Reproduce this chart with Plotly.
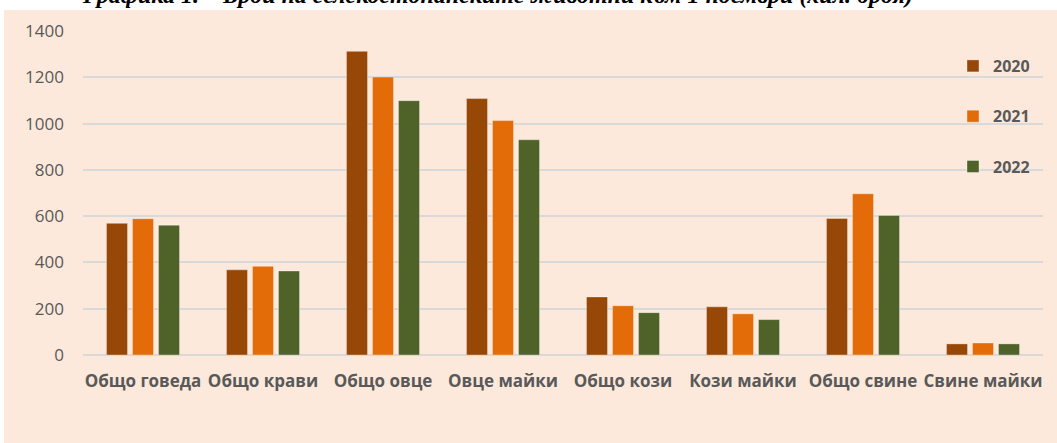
import plotly.graph_objects as go

categories = ["Общо говеда", "Общо крави", "Общо овце", "Овце майки",
              "Общо кози", "Кози майки", "Общо свине", "Свине майки"]
years = ["2020", "2021", "2022"]
values_2020 = [569, 368, 1312, 1108, 251, 208, 590, 48]
values_2021 = [589, 383, 1201, 1013, 213, 178, 697, 52]
values_2022 = [561, 363, 1099, 930, 183, 153, 603, 48]
y_ticks = [0, 200, 400, 600, 800, 1000, 1200, 1400]
title_text = "Графика 1. – Брой на селскостопанските животни към 1 ноември (хил. броя)"

colors = ["#974706", "#E36C09", "#4F6228"]
series = [values_2020, values_2021, values_2022]

W, H = 1057, 443
ML, MR, MT, MB = 83, 14, 31, 88
PW, PH = W - ML - MR, H - MT - MB

def px_x(p):
    return (p - ML) / PW

def px_y(p):
    return (H - MB - p) / PH

fig = go.Figure()
for i, (yr, vals) in enumerate(zip(years, series)):
    fig.add_trace(go.Bar(
        x=categories, y=vals, name=yr, legendgroup=yr,
        marker=dict(color=colors[i], line=dict(color="rgba(255,255,255,0.35)", width=1)),
    ))

fig.add_shape(type="rect", xref="paper", yref="paper",
              x0=px_x(4), x1=px_x(W + 2), y0=px_y(H + 2), y1=px_y(10),
              fillcolor="#FDE9DB", line=dict(width=0), layer="below")

fig.add_annotation(text=title_text, xref="paper", yref="paper",
                   x=px_x(497), y=px_y(10), xanchor="center", yanchor="bottom",
                   showarrow=False,
                   font=dict(family="Liberation Serif", size=24, color="#000000",
                             weight="bold", style="italic"))

fig.update_layout(
    width=W, height=H,
    margin=dict(l=ML, r=MR, t=MT, b=MB, pad=0),
    paper_bgcolor="#FFFFFF",
    plot_bgcolor="#FDE9DB",
    barmode="group", bargap=0.35, bargroupgap=0.19,
    showlegend=True,
    legend=dict(x=px_x(953), y=px_y(49), xanchor="left", yanchor="top",
                bgcolor="rgba(0,0,0,0)", traceorder="grouped", tracegroupgap=26.5,
                font=dict(family="Open Sans", size=16, color="#595959", weight="bold")),
    font=dict(family="Open Sans", color="#595959"),
)
fig.update_xaxes(showgrid=False, showline=False, zeroline=False, ticks="",
                 tickfont=dict(family="Open Sans", size=17, color="#595959", weight="bold"),
                 ticklabelstandoff=14)
fig.update_yaxes(range=[0, 1400], tickvals=y_ticks, showgrid=True,
                 gridcolor="#D9D9D9", gridwidth=1.5, zeroline=True,
                 zerolinecolor="#D9D9D9", zerolinewidth=1.5, showline=False, ticks="",
                 tickfont=dict(family="Open Sans", size=17, color="#595959"),
                 ticklabelstandoff=18)

fig.write_html("out.html", config={"displayModeBar": False},
               post_script="document.body.style.margin='0';")
